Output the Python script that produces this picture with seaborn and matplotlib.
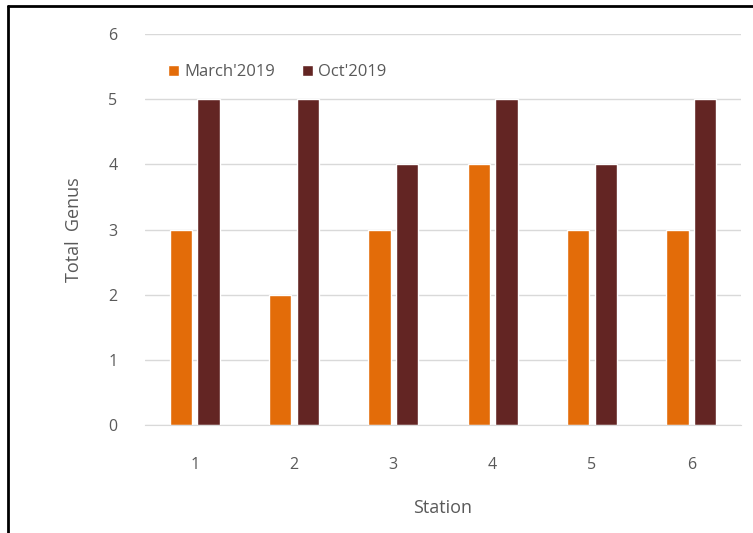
import pandas as pd
import matplotlib.pyplot as plt
import seaborn as sns
from matplotlib.lines import Line2D

# data
stations = ['1', '2', '3', '4', '5', '6']
march_2019 = [3, 2, 3, 4, 3, 3]
oct_2019 = [5, 5, 4, 5, 4, 5]
series_names = ["March'2019", "Oct'2019"]
colors = ['#E36C09', '#632523']
y_ticks = [0, 1, 2, 3, 4, 5, 6]

df = pd.DataFrame({
    'Station': stations * 2,
    'Total Genus': march_2019 + oct_2019,
    'Season': [series_names[0]] * len(stations) + [series_names[1]] * len(stations),
})

sns.set_style('white')
plt.rcParams['font.family'] = ['Open Sans', 'DejaVu Sans']
text_color = '#595959'

fig = plt.figure(figsize=(7.53, 5.33), dpi=100)
ax = fig.add_axes([0.1926, 0.2026, 0.7914, 0.7334])

sns.barplot(data=df, x='Station', y='Total Genus', hue='Season',
            palette=colors, width=0.56, gap=0.2, ax=ax, saturation=1)

ax.set_ylim(0, 6)
ax.set_yticks(y_ticks)
ax.set_xlim(-0.5, len(stations) - 0.5)
ax.yaxis.grid(True, color='#d9d9d9', linewidth=1)
ax.set_axisbelow(True)
for side in ['top', 'right', 'left']:
    ax.spines[side].set_visible(False)
ax.spines['bottom'].set_color('#d9d9d9')
ax.tick_params(axis='both', length=0, labelsize=11.5, labelcolor=text_color)
ax.tick_params(axis='y', pad=20)
ax.tick_params(axis='x', pad=23)

ax.set_ylabel('Total  Genus', fontsize=13, color=text_color, labelpad=18)
ax.set_xlabel('Station', fontsize=13, color=text_color, labelpad=19)

ax.legend(loc='upper left', bbox_to_anchor=(0.01, 0.965), ncol=2, frameon=False,
          fontsize=12, labelcolor=text_color, handlelength=0.7, handleheight=0.7,
          handletextpad=0.3, columnspacing=1.6, borderaxespad=0.6)

# outer frame (top and left edges only)
fig.add_artist(Line2D([0.011, 1.0], [0.989, 0.989], transform=fig.transFigure,
                      color='black', linewidth=2))
fig.add_artist(Line2D([0.011, 0.011], [0.0, 0.989], transform=fig.transFigure,
                      color='black', linewidth=2))

fig.savefig('out.png', dpi=100)
plt.close(fig)
